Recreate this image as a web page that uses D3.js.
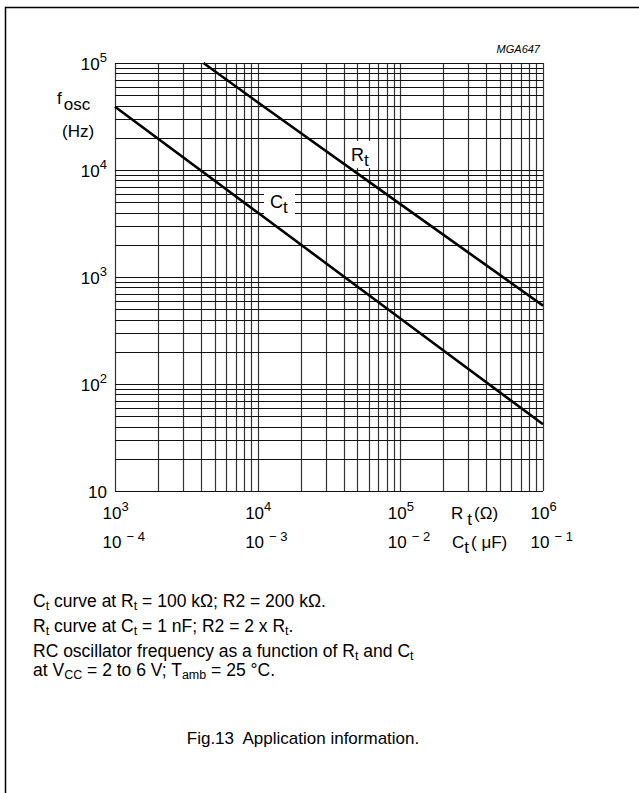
<!DOCTYPE html>
<html>
<head>
<meta charset="utf-8">
<script src="https://cdn.jsdelivr.net/npm/d3@7"></script>
<style>
  body { margin: 0; background: #fff; }
  text { font-family: "Liberation Sans", Arial, sans-serif; fill: #000; }
</style>
</head>
<body>
<script>
// values (log-log)
var rtDecades = [1e3, 1e4, 1e5, 1e6];          // Rt axis (ohm)
var rtExps = [3, 4, 5, 6];
var ctDecades = [1e-4, 1e-3, 1e-2, 1e-1];      // Ct axis (uF)
var ctExps = [-4, -3, -2, -1];
var freqDecades = [10, 1e2, 1e3, 1e4, 1e5];    // fosc (Hz)
var freqExps = [1, 2, 3, 4, 5];

// Rt curve: [Rt ohm, f Hz]   (Ct = 1 nF)
var rtCurve = [[4170, 1e5], [1e4, 43000], [1e5, 4800], [1e6, 540]];
// Ct curve: [Ct uF, f Hz]    (Rt = 100 kohm)
var ctCurve = [[1e-4, 39000], [1e-3, 4000], [1e-2, 410], [1e-1, 42]];

var captionLines = [
  [["C"], ["t", "sub"], [" curve at R"], ["t", "sub"], [" = 100 k\u03A9; R2 = 200 k\u03A9."]],
  [["R"], ["t", "sub"], [" curve at C"], ["t", "sub"], [" = 1 nF; R2 = 2 x R"], ["t", "sub"], ["."]],
  [["RC oscillator frequency as a function of R"], ["t", "sub"], [" and C"], ["t", "sub"]],
  [["at V"], ["CC", "sub"], [" = 2 to 6 V; T"], ["amb", "sub"], [" = 25 \u00B0C."]]
];

var W = 639, H = 793;
var pLeft = 115, pRight = 543, pTop = 63, pBottom = 491;

var svg = d3.select("body").append("svg")
    .attr("width", W)
    .attr("height", H);

// frame of the figure
svg.append("path")
    .attr("d", "M5.5," + H + "V7.5H" + W)
    .attr("fill", "none")
    .attr("stroke", "#000")
    .attr("stroke-width", 1.5);

var x = d3.scaleLog().domain([1e3, 1e6]).range([pLeft, pRight]);
var xc = d3.scaleLog().domain([1e-4, 1e-1]).range([pLeft, pRight]);
var y = d3.scaleLog().domain([10, 1e5]).range([pBottom, pTop]);

var grid = svg.append("g");
grid.selectAll("line.v")
    .data(x.ticks())
    .enter().append("line")
    .attr("class", "v")
    .attr("x1", function(d) { return Math.round(x(d)) + 0.5; })
    .attr("x2", function(d) { return Math.round(x(d)) + 0.5; })
    .attr("y1", pTop)
    .attr("y2", pBottom)
    .attr("stroke", "#333")
    .attr("stroke-width", 1.2);
grid.selectAll("line.h")
    .data(y.ticks())
    .enter().append("line")
    .attr("class", "h")
    .attr("x1", pLeft)
    .attr("x2", pRight)
    .attr("y1", function(d) { return Math.round(y(d)) + 0.5; })
    .attr("y2", function(d) { return Math.round(y(d)) + 0.5; })
    .attr("stroke", "#111")
    .attr("stroke-width", 1.2);

// white boxes behind curve labels
svg.append("rect").attr("x", 349).attr("y", 141).attr("width", 29).attr("height", 27).attr("fill", "#fff");
svg.append("rect").attr("x", 264).attr("y", 189).attr("width", 31).attr("height", 27).attr("fill", "#fff");

var line = d3.line()
    .x(function(d) { return x(d[0]); })
    .y(function(d) { return y(d[1]); });
var lineC = d3.line()
    .x(function(d) { return xc(d[0]); })
    .y(function(d) { return y(d[1]); });

svg.append("path").datum(rtCurve)
    .attr("d", line)
    .attr("fill", "none").attr("stroke", "#000").attr("stroke-width", 2.6);
svg.append("path").datum(ctCurve)
    .attr("d", lineC)
    .attr("fill", "none").attr("stroke", "#000").attr("stroke-width", 2.6);

function subLabel(g, px, py, main, sub, size) {
  var t = g.append("text").attr("x", px).attr("y", py).attr("font-size", size);
  t.append("tspan").text(main);
  t.append("tspan").attr("dy", size * 0.3).attr("font-size", size * 0.95).text(sub);
  return t;
}
subLabel(svg, 351, 161, "R", "t", 18);
subLabel(svg, 270, 208, "C", "t", 18);

// y tick labels
var ylab = svg.append("g");
ylab.selectAll("text")
    .data(freqDecades)
    .enter().append("text")
    .attr("x", 107)
    .attr("y", function(d) { return y(d) + 7; })
    .attr("text-anchor", "end")
    .attr("font-size", 17)
    .each(function(d, i) {
      var t = d3.select(this);
      t.append("tspan").text("10");
      if (freqExps[i] > 1) {
        t.append("tspan").attr("dy", -8).attr("font-size", 13).text(freqExps[i]);
      }
    });

// y axis title
var fl = svg.append("text").attr("x", 57).attr("y", 104).attr("font-size", 17);
fl.append("tspan").text("f");
fl.append("tspan").attr("dx", 2).attr("dy", 6).text("osc");
svg.append("text").attr("x", 62).attr("y", 137).attr("font-size", 17).text("(Hz)");

// x tick labels, Rt row
svg.append("g").selectAll("text")
    .data(rtDecades)
    .enter().append("text")
    .attr("x", function(d) { return x(d) - 12.5; })
    .attr("y", 519)
    .attr("font-size", 17)
    .each(function(d, i) {
      var t = d3.select(this);
      t.append("tspan").text("10");
      t.append("tspan").attr("dy", -8).attr("font-size", 13).text(rtExps[i]);
    });

// x tick labels, Ct row
svg.append("g").selectAll("text")
    .data(ctDecades)
    .enter().append("text")
    .attr("x", function(d) { return xc(d) - 12.5; })
    .attr("y", 548)
    .attr("font-size", 17)
    .each(function(d, i) {
      var t = d3.select(this);
      t.append("tspan").text("10");
      t.append("tspan").attr("dx", 5).attr("dy", -7).attr("font-size", 13).text("\u2212 " + Math.abs(ctExps[i]));
    });

// axis unit labels
var rl = svg.append("text").attr("x", 451).attr("y", 519).attr("font-size", 17);
rl.append("tspan").text("R");
rl.append("tspan").attr("dx", 4).attr("dy", 6).text("t");
rl.append("tspan").attr("dx", 2).attr("dy", -6).text("(\u03A9)");
var cl = svg.append("text").attr("x", 452).attr("y", 548).attr("font-size", 17);
cl.append("tspan").text("C");
cl.append("tspan").attr("dy", 5).text("t");
cl.append("tspan").attr("dx", 2).attr("dy", -5).text("( \u03BCF)");

svg.append("text")
    .attr("x", 540).attr("y", 53)
    .attr("text-anchor", "end")
    .attr("font-size", 11)
    .attr("font-style", "italic")
    .text("MGA647");

// notes under the graph
var capY = [607, 632, 657, 676];
captionLines.forEach(function(parts, i) {
  var t = svg.append("text").attr("x", 33).attr("y", capY[i]).attr("font-size", 17.5);
  var lastSub = false;
  parts.forEach(function(p) {
    if (p[1] === "sub") {
      t.append("tspan").attr("font-size", 12.5).attr("dy", 3).text(p[0]);
      lastSub = true;
    } else {
      t.append("tspan").attr("dy", lastSub ? -3 : 0).text(p[0]);
      lastSub = false;
    }
  });
});

svg.append("text")
    .attr("x", 303).attr("y", 744)
    .attr("text-anchor", "middle")
    .attr("font-size", 17)
    .style("white-space", "pre")
    .text("Fig.13  Application information.");
</script>
</body>
</html>
